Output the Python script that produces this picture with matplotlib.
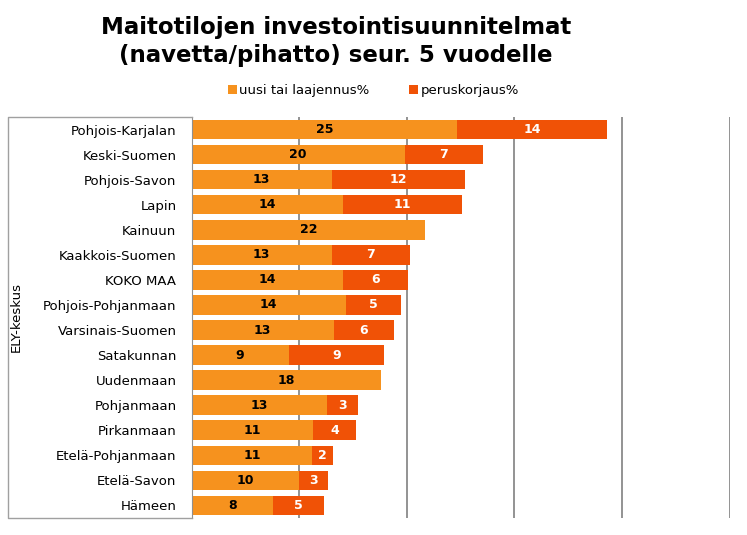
import numpy as np
import matplotlib.pyplot as plt
from matplotlib.lines import Line2D

# data (top to bottom)
regions = ["Pohjois-Karjalan", "Keski-Suomen", "Pohjois-Savon", "Lapin", "Kainuun",
           "Kaakkois-Suomen", "KOKO MAA", "Pohjois-Pohjanmaan", "Varsinais-Suomen",
           "Satakunnan", "Uudenmaan", "Pohjanmaan", "Pirkanmaan", "Etelä-Pohjanmaan",
           "Etelä-Savon", "Hämeen"]
uusi = [24.7, 19.8, 13.0, 14.1, 21.7, 13.0, 14.1, 14.3, 13.2, 9.0, 17.6, 12.6, 11.3, 11.2, 10.0, 7.6]
perus = [13.9, 7.3, 12.4, 11.0, 0, 7.3, 6.0, 5.2, 5.6, 8.9, 0, 2.9, 4.0, 1.9, 2.7, 4.7]
series_names = ["uusi tai laajennus%", "peruskorjaus%"]

orange = "#F6921E"
red = "#F05206"

fig = plt.figure(figsize=(7.47, 5.35), dpi=100)
ax = fig.add_axes([0.2566, 0.0318, 0.7202, 0.7495])

y = np.arange(len(regions))
b1 = ax.barh(y, uusi, height=0.78, color=orange, label=series_names[0], zorder=2)
b2 = ax.barh(y, perus, left=uusi, height=0.78, color=red, label=series_names[1], zorder=2)

ax.bar_label(b1, labels=[f"{v:.0f}" if v > 0 else "" for v in uusi],
             label_type="center", fontsize=9, fontweight="bold", color="black")
ax.bar_label(b2, labels=[f"{v:.0f}" if v > 0 else "" for v in perus],
             label_type="center", fontsize=9, fontweight="bold", color="white")

ax.set_xlim(0, 50)
ax.set_ylim(len(regions) - 0.5, -0.5)
ax.set_xticks([10, 20, 30, 40, 50])
ax.xaxis.grid(True, color="#808080", linewidth=1.2, zorder=0)
ax.set_axisbelow(True)
ax.tick_params(axis="x", length=0, labelbottom=False)
ax.set_yticks(y)
ax.set_yticklabels(regions, fontsize=9.5)
ax.tick_params(axis="y", length=0, pad=11)
for s in ["top", "right", "bottom"]:
    ax.spines[s].set_visible(False)
ax.spines["left"].set_color("#909090")

ax.set_ylabel("ELY-keskus", fontsize=9.5)
ax.yaxis.set_label_coords(-0.314, 0.5)

# box around the category labels
x0, x1 = 8 / 747, 191.7 / 747
yt, yb = 1 - 117 / 535, 1 - 518 / 535
fig.add_artist(Line2D([x1, x0, x0, x1], [yt, yt, yb, yb], color="#a0a0a0", lw=1))

fig.text(0.45, 1 - 16 / 535, "Maitotilojen investointisuunnitelmat\n(navetta/pihatto) seur. 5 vuodelle",
         ha="center", va="top", fontsize=16.5, fontweight="bold", linespacing=1.3)

fig.legend(handles=[b1, b2], loc="center", bbox_to_anchor=(0.5, 0.83), ncol=2,
           frameon=False, fontsize=9.5, handlelength=0.7, handleheight=0.7,
           handletextpad=0.2, columnspacing=3)

fig.savefig("out.png", dpi=100)
